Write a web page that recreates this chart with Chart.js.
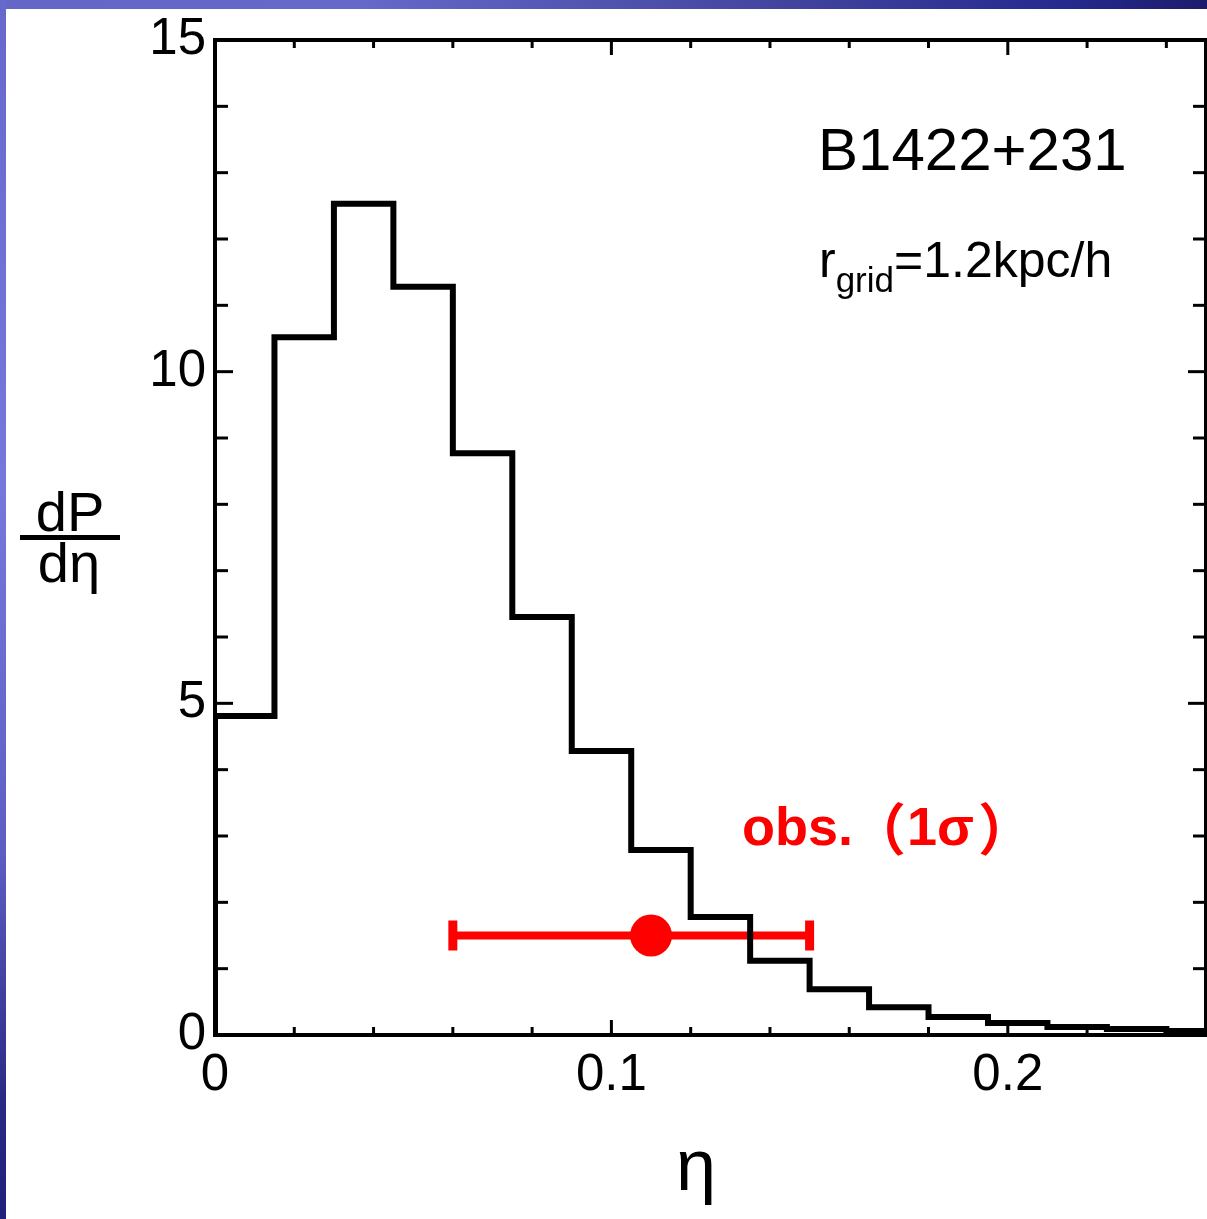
<!DOCTYPE html>
<html><head><meta charset="utf-8">
<script src="https://cdn.jsdelivr.net/npm/chart.js@4"></script>
<style>
html,body{margin:0;padding:0;width:1207px;height:1219px;overflow:hidden;background:#fff;}
#topbar{position:absolute;left:0;top:0;width:1207px;height:9px;background:linear-gradient(90deg,#6466c8 0%,#6668ca 30%,#42449e 65%,#262a90 88%,#1c1c6a 100%);}
#leftbar{position:absolute;left:0;top:0;width:6px;height:1219px;background:linear-gradient(180deg,#6668cc 0%,#7478dc 40%,#5c5ec2 70%,#2a2a86 90%,#20207a 100%);}
canvas{position:absolute;left:0;top:0;}
</style></head>
<body>
<div id="topbar"></div><div id="leftbar"></div>
<canvas id="c" width="1207" height="1219"></canvas>
<script>
// ---- data ----
const binEdges  = [0, 0.015, 0.03, 0.045, 0.06, 0.075, 0.09, 0.105, 0.12, 0.135, 0.15, 0.165, 0.18, 0.195, 0.21, 0.225, 0.24, 0.255];
const binValues = [4.81, 10.52, 12.53, 11.28, 8.77, 6.30, 4.28, 2.79, 1.78, 1.12, 0.69, 0.42, 0.27, 0.18, 0.12, 0.09, 0.06];
const obsEta  = [0.11];
const obsLow  = [0.06];
const obsHigh = [0.15];
const obsVal  = [1.5];
const xMajorTicks = [0, 0.1, 0.2];
const xMinorTicks = [0.02, 0.04, 0.06, 0.08, 0.12, 0.14, 0.16, 0.18, 0.22, 0.24];
const yMajorTicks = [0, 5, 10, 15];
const yMinorTicks = [1, 2, 3, 4, 6, 7, 8, 9, 11, 12, 13, 14];
const xLabel = 'η';
const yLabelTop = 'dP', yLabelBottom = 'dη';
const objectName = 'B1422+231';
const gridText = ['r', 'grid', '=1.2kpc/h'];
const obsText = ['obs.', '（', '1σ', '）'];

const histData = [{x: binEdges[0], y: 0}];
binValues.forEach((v, i) => histData.push({x: binEdges[i], y: v}));
histData.push({x: binEdges[binEdges.length - 1], y: binValues[binValues.length - 1]});

const FONT = '"Liberation Sans", Arial, Helvetica, sans-serif';
const CJK = '"Noto Sans CJK JP", "Noto Sans CJK SC", sans-serif';

const framePlugin = {
  id: 'frame',
  afterDatasetsDraw(chart) {
    const {ctx, chartArea: a, scales: {x, y}} = chart;
    ctx.save();
    ctx.strokeStyle = '#000';
    ctx.lineCap = 'butt';
    ctx.lineWidth = 3;
    const xt = (v, len) => {
      const px = x.getPixelForValue(v);
      ctx.beginPath(); ctx.moveTo(px, a.bottom); ctx.lineTo(px, a.bottom - len); ctx.stroke();
      ctx.beginPath(); ctx.moveTo(px, a.top); ctx.lineTo(px, a.top + len); ctx.stroke();
    };
    const yt = (v, len) => {
      const py = y.getPixelForValue(v);
      ctx.beginPath(); ctx.moveTo(a.left, py); ctx.lineTo(a.left + len, py); ctx.stroke();
      ctx.beginPath(); ctx.moveTo(a.right, py); ctx.lineTo(a.right - len, py); ctx.stroke();
    };
    xMinorTicks.forEach(v => xt(v, 8));
    xMajorTicks.forEach(v => xt(v, 15));
    yMinorTicks.forEach(v => yt(v, 13));
    yMajorTicks.forEach(v => yt(v, 18));
    ctx.lineWidth = 4;
    ctx.strokeRect(a.left, a.top, a.right - a.left, a.bottom - a.top);
    ctx.restore();
  },
  afterDraw(chart) {
    const {ctx} = chart;
    ctx.save();
    ctx.fillStyle = '#000';
    ctx.textBaseline = 'alphabetic';
    ctx.font = '72px ' + FONT;
    ctx.textAlign = 'center';
    ctx.fillText(xLabel, 696, 1190);
    ctx.font = '56px ' + FONT;
    ctx.fillText(yLabelTop, 70, 531);
    ctx.fillText(yLabelBottom, 69, 582);
    ctx.fillRect(20, 535, 100, 5);
    ctx.textAlign = 'left';
    ctx.font = '60px ' + FONT;
    ctx.fillText(objectName, 818, 170);
    ctx.font = '50px ' + FONT;
    let xp = 819;
    ctx.fillText(gridText[0], xp, 277);
    xp += ctx.measureText(gridText[0]).width;
    ctx.font = '35px ' + FONT;
    ctx.fillText(gridText[1], xp, 292);
    xp += ctx.measureText(gridText[1]).width;
    ctx.font = '50px ' + FONT;
    ctx.fillText(gridText[2], xp, 277);
    ctx.fillStyle = '#ff0000';
    ctx.font = 'bold 54px ' + FONT;
    ctx.fillText(obsText[0], 742, 845);
    ctx.font = 'bold 56px ' + CJK;
    ctx.textAlign = 'right';
    ctx.fillText(obsText[1], 906, 850);
    ctx.textAlign = 'left';
    ctx.font = 'bold 54px ' + FONT;
    ctx.fillText(obsText[2], 907, 845);
    ctx.font = 'bold 56px ' + CJK;
    ctx.fillText(obsText[3], 978, 850);
    ctx.restore();
  }
};

new Chart(document.getElementById('c'), {
  type: 'scatter',
  data: {
    datasets: [
      {
        label: 'hist',
        data: histData,
        showLine: true,
        stepped: 'before',
        borderColor: '#000',
        borderWidth: 6,
        pointRadius: 0,
        fill: false,
        order: 0
      },
      {
        label: 'errbar',
        data: [{x: obsLow[0], y: obsVal[0]}, {x: obsHigh[0], y: obsVal[0]}],
        showLine: true,
        borderColor: '#ff0000',
        borderWidth: 8,
        pointStyle: 'line',
        pointRotation: 90,
        pointRadius: 15,
        pointBorderWidth: 9,
        pointBorderColor: '#ff0000',
        pointBackgroundColor: '#ff0000',
        order: 2
      },
      {
        label: 'obs',
        data: [{x: obsEta[0], y: obsVal[0]}],
        pointRadius: 21,
        pointBackgroundColor: '#ff0000',
        pointBorderColor: '#ff0000',
        pointBorderWidth: 0,
        order: 1
      }
    ]
  },
  options: {
    responsive: false,
    animation: false,
    devicePixelRatio: 1,
    layout: {autoPadding: false, padding: {top: 40, right: 1, left: 0, bottom: 0}},
    plugins: {legend: {display: false}, tooltip: {enabled: false}},
    scales: {
      x: {
        type: 'linear', min: 0, max: 0.25,
        afterBuildTicks: s => { s.ticks = xMajorTicks.map(v => ({value: v})); },
        ticks: {
          color: '#000', font: {size: 51, family: FONT}, padding: 10, maxRotation: 0, autoSkip: false,
          callback: v => String(Math.round(v * 10) / 10)
        },
        grid: {display: false, drawTicks: false},
        border: {display: false},
        afterFit: s => { s.height = 184; s.paddingLeft = 0; s.paddingRight = 0; }
      },
      y: {
        type: 'linear', min: 0, max: 15,
        afterBuildTicks: s => { s.ticks = yMajorTicks.map(v => ({value: v})); },
        ticks: {color: '#000', font: {size: 51, family: FONT}, padding: 9, autoSkip: false},
        grid: {display: false, drawTicks: false},
        border: {display: false},
        afterFit: s => { s.width = 215; s.paddingTop = 0; s.paddingBottom = 0; }
      }
    }
  },
  plugins: [framePlugin]
});
</script>
</body></html>
